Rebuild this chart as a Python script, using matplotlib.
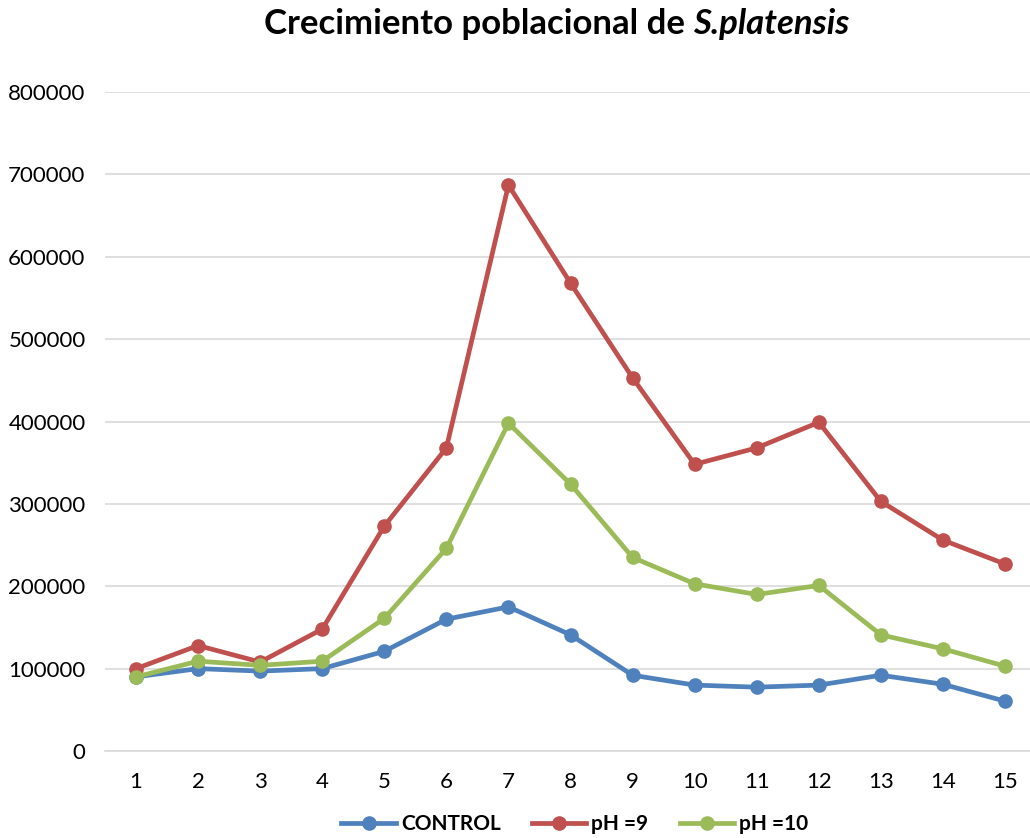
import matplotlib
matplotlib.use("Agg")
import matplotlib.pyplot as plt

plt.rcParams['font.family'] = ['Lato', 'DejaVu Sans']

days = list(range(1, 16))
control = [90000, 100000, 97000, 100000, 121000, 160000, 175000, 141000,
           92000, 80000, 77500, 80000, 92000, 81000, 60500]
ph9 = [100000, 128000, 108000, 148000, 273000, 368000, 687000, 568000,
       453000, 348000, 368000, 399000, 303000, 256000, 227000]
ph10 = [90000, 109000, 104000, 109000, 161000, 246000, 398000, 324000,
        235000, 203000, 190000, 201000, 141000, 124000, 103000]

W, H = 1030, 838
fig = plt.figure(figsize=(W / 100, H / 100), dpi=100)
ax = fig.add_axes([105 / W, 87 / H, 925 / W, (751 - 92) / H])

series = [('CONTROL', control, '#4F81BD'),
          ('pH =9', ph9, '#C0504D'),
          ('pH =10', ph10, '#9BBB59')]
for name, vals, col in series:
    ax.plot(days, vals, color=col, lw=3.4, marker='o', ms=9.5, label=name)

ax.set_xlim(0.5, 0.5 + 925 / 62.07)
ax.set_ylim(0, 800000)
ax.set_yticks(range(0, 800001, 100000))
ax.set_xticks(days)
ax.grid(axis='y', color='#D9D9D9', lw=1.2)
ax.set_axisbelow(True)
for s in ['top', 'right', 'left']:
    ax.spines[s].set_visible(False)
ax.spines['bottom'].set_color('#D9D9D9')
ax.spines['bottom'].set_linewidth(1.2)
ax.tick_params(length=0, labelsize=16)
ax.tick_params(axis='x', pad=15)
ax.tick_params(axis='y', pad=14)

# title: bold part + bold italic species name
ty = 1 - 24 / H
fig.text(685 / W, ty, 'Crecimiento poblacional de', ha='right', va='center',
         fontsize=25, fontweight='bold')
fig.text(693 / W, ty, 'S.platensis', ha='left', va='center',
         fontsize=25, fontweight='bold', fontstyle='italic')

fig.legend(loc='lower center', bbox_to_anchor=(0.558, -0.018), ncol=3,
           frameon=False, prop={'size': 15, 'weight': 'bold'},
           handlelength=2.6, columnspacing=1.5, handletextpad=0.25)

fig.savefig('out.png', dpi=100)
